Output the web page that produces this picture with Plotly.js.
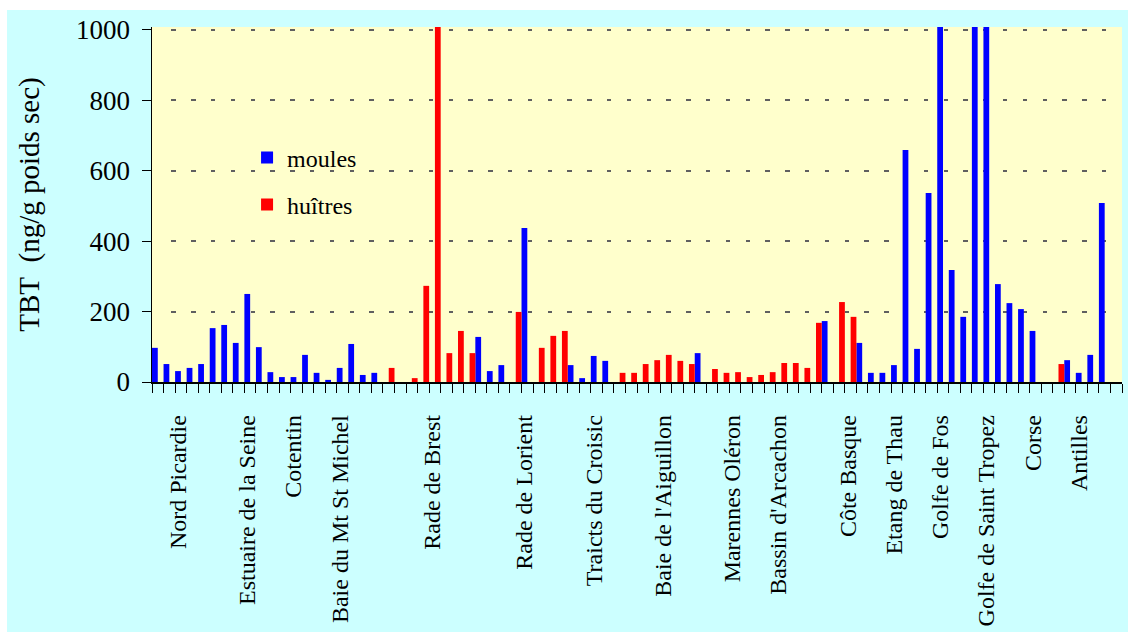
<!DOCTYPE html>
<html>
<head>
<meta charset="utf-8">
<script src="https://cdn.plot.ly/plotly-3.0.1.min.js"></script>
<style>
  html, body { margin: 0; padding: 0; background: #ffffff; }
  #chart { position: absolute; left: 7px; top: 10px; width: 1121px; height: 622px; }
</style>
</head>
<body>
<div id="chart"></div>
<script>
// ---- DATA ----
// 84 sampling stations, in coastal order; null = species not sampled at that station
const moules = [
  97, 51, 31, 40, 51, 153, 162, 111, 250, 99,
  28, 14, 14, 77, 26, 6, 40, 108, 20, 26,
  null, null, null, null, null, null, null, null, 128, 31,
  48, null, 437, null, null, null, 48, 11, 74, 60,
  null, null, null, null, null, null, null, 82, null, null,
  null, null, null, null, null, null, null, null, 173, null,
  null, 111, 26, 26, 48, 659, 94, 537, 1010, 318,
  185, 1010, 1010, 278, 224, 207, 145, null, null, 62,
  26, 77, 508, null
];
const huitres = [
  null, null, null, null, null, null, null, null, null, null,
  null, null, null, null, null, null, null, null, null, null,
  40, null, 11, 273, 1010, 82, 145, 82, null, null,
  null, 199, null, 97, 131, 145, null, null, null, null,
  26, 26, 51, 62, 77, 60, 51, null, 37, 26,
  28, 14, 20, 28, 54, 54, 40, 168, null, 227,
  185, null, null, null, null, null, null, null, null, null,
  null, null, null, null, null, null, null, null, 51, null,
  null, null, null, null
];
// region names and the station at which each name is written
const regionNames = [
  "Nord Picardie", "Estuaire de la Seine", "Cotentin", "Baie du Mt St Michel",
  "Rade de Brest", "Rade de Lorient", "Traicts du Croisic", "Baie de l'Aiguillon",
  "Marennes Oléron", "Bassin d'Arcachon", "Côte Basque", "Etang de Thau",
  "Golfe de Fos", "Golfe de Saint Tropez", "Corse", "Antilles"
];
const regionStation = [2, 8, 12, 16, 24, 32, 38, 44, 50, 54, 60, 64, 68, 72, 76, 80];
const yTicks = [0, 200, 400, 600, 800, 1000];

// ---- CHART ----
const stationIdx = moules.map((_, i) => i);
const nSt = moules.length;
const labelShift = -0.23;
const serif = '"Liberation Serif", "Times New Roman", Times, serif';
const gridDash = '0px,19.4px,' + new Array(52).fill('4.4px,15.4px').join(',');

const traces = [
  {
    type: 'bar', name: 'moules', x: stationIdx, y: moules,
    width: 0.5, offset: -0.5,
    marker: { color: '#0000FF', line: { width: 0 } },
    legendgroup: 'm', cliponaxis: true, hoverinfo: 'x+y'
  },
  {
    type: 'bar', name: 'huîtres', x: stationIdx, y: huitres,
    width: 0.5, offset: 0,
    marker: { color: '#FF0000', line: { width: 0 } },
    legendgroup: 'h', cliponaxis: true, hoverinfo: 'x+y'
  }
];

const layout = {
  width: 1121, height: 622,
  paper_bgcolor: '#CCFFFF',
  plot_bgcolor: '#FFFFCC',
  margin: { l: 145, r: 6, t: 17.2, b: 250, pad: 0 },
  barmode: 'overlay',
  font: { family: serif, color: '#000000', size: 24 },
  showlegend: true,
  legend: {
    x: 0.098, y: 0.695, xanchor: 'left', yanchor: 'top',
    bgcolor: 'rgba(0,0,0,0)', borderwidth: 0,
    font: { family: serif, size: 24, color: '#000' },
    traceorder: 'grouped', tracegroupgap: 13
  },
  xaxis: {
    range: [-0.5, nSt - 0.5],
    tickmode: 'array',
    tickvals: regionStation.map(s => s + labelShift),
    ticktext: regionNames,
    tickangle: -90,
    ticks: '',
    ticklabelstandoff: 22,
    tickfont: { family: serif, size: 24, color: '#000' },
    minor: { tickmode: 'linear', tick0: -0.5, dtick: 1, ticks: 'outside', ticklen: 9, tickcolor: '#000', tickwidth: 1, showgrid: false },
    showline: true, linecolor: '#000', linewidth: 1.5,
    showgrid: false, zeroline: false, fixedrange: true
  },
  yaxis: {
    range: [0, 1008],
    tickmode: 'array', tickvals: yTicks,
    ticks: 'outside', ticklen: 9, tickcolor: '#000', tickwidth: 1,
    ticklabelstandoff: 6,
    tickfont: { family: serif, size: 27, color: '#000' },
    showline: true, linecolor: '#000', linewidth: 1.5,
    showgrid: true, gridcolor: '#606060', gridwidth: 2, griddash: gridDash,
    minor: { tickmode: 'linear', tick0: -0.5, dtick: 200, showgrid: true, gridcolor: '#ffffff', gridwidth: 1, ticks: '' },
    zeroline: false, fixedrange: true,
    title: { text: 'TBT\u00a0 (ng/g poids sec)', font: { family: serif, size: 29, color: '#000' }, standoff: 28 }
  }
};

Plotly.newPlot('chart', traces, layout, { displayModeBar: false, staticPlot: true });
</script>
</body>
</html>
